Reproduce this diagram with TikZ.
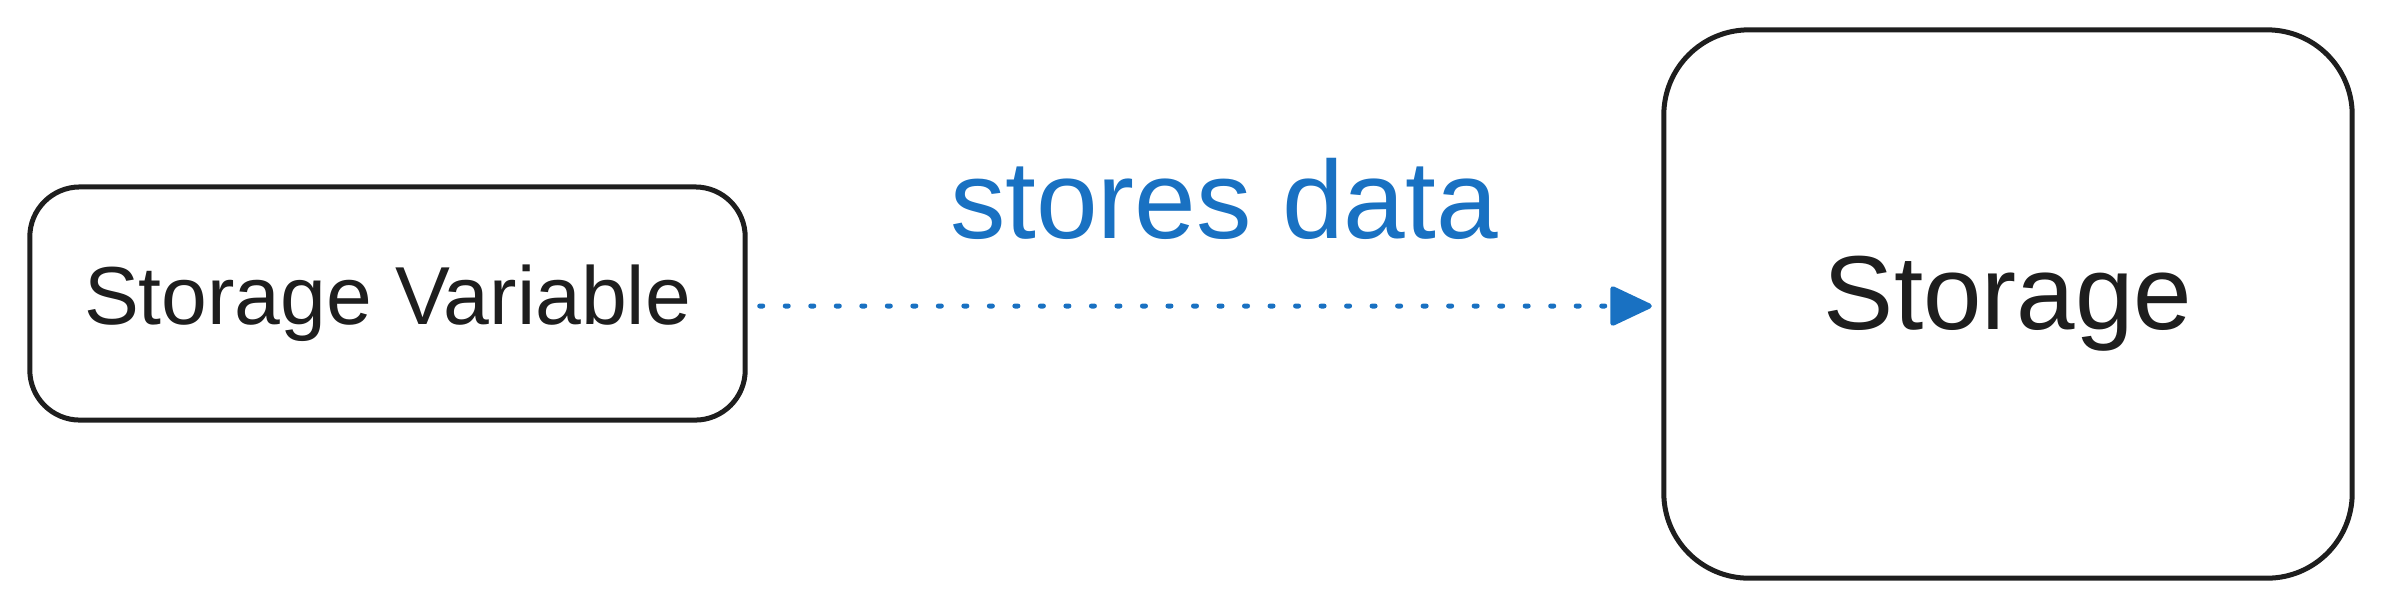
\documentclass[tikz,border=0pt]{standalone}
\usepackage{fontspec}
\setmainfont{Liberation Sans}
\usetikzlibrary{arrows.meta}
\definecolor{ink}{HTML}{1E1E1E}
\definecolor{exblue}{HTML}{1971C2}
\tikzset{
  box/.style={draw=ink, line width=0.05cm, text=ink, inner sep=0pt},
  link/.style={draw=exblue, line width=0.05cm, line cap=round, dash pattern=on 0.03cm off 0.225cm,
    -{Triangle[length=0.45cm, width=0.41cm, round]}},
  linklabel/.style={text=exblue, font=\fontsize{31.5pt}{36pt}\selectfont, inner sep=0pt}
}
\begin{document}
\begin{tikzpicture}[x=0.01cm, y=-0.01cm]
  \useasboundingbox (0,0) rectangle (2383,608);
  \node[box, rounded corners=0.5cm, minimum width=7.15cm, minimum height=2.33cm,
        font=\fontsize{23.4pt}{28pt}\selectfont] (sv) at (387.5,303.5) {Storage Variable};
  \node[box, rounded corners=0.85cm, minimum width=6.88cm, minimum height=5.48cm,
        font=\fontsize{29.9pt}{36pt}\selectfont] (st) at (2008,304) {Storage};
  \draw[link, shorten <=0.12cm, shorten >=0.095cm] ([yshift=-0.025cm]sv.east) -- ([yshift=-0.02cm]st.west);
  \node[linklabel, anchor=base] (lbl) at (1224,238) {stores data};
\end{tikzpicture}
\end{document}
